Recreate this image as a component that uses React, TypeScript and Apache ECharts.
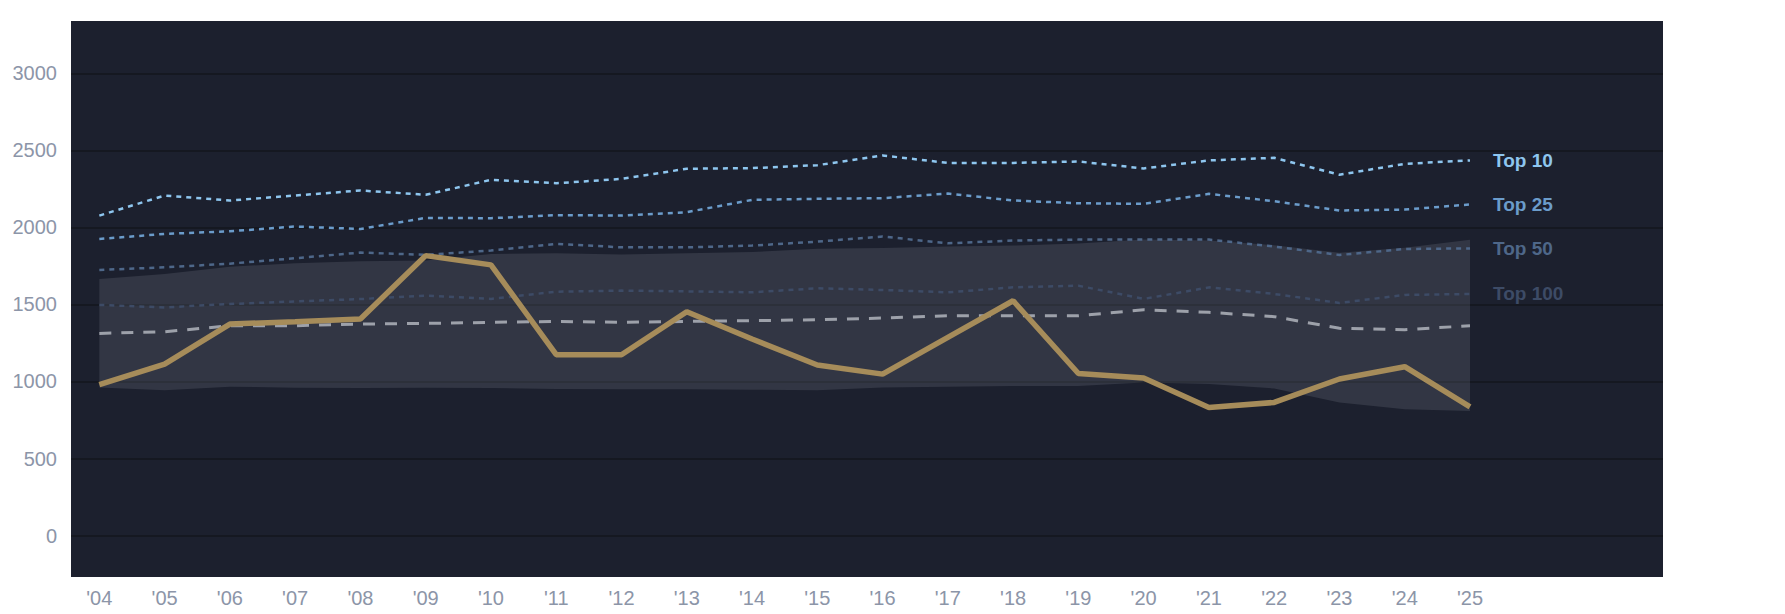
import React, { useEffect, useRef } from "react";
import * as echarts from "echarts";

const years = [2004, 2005, 2006, 2007, 2008, 2009, 2010, 2011, 2012, 2013, 2014, 2015, 2016, 2017, 2018, 2019, 2020, 2021, 2022, 2023, 2024, 2025];
const top10 = [2077, 2207, 2175, 2207, 2240, 2212, 2309, 2287, 2315, 2381, 2385, 2404, 2467, 2419, 2419, 2428, 2383, 2435, 2452, 2342, 2413, 2435];
const top25 = [1925, 1958, 1975, 2006, 1990, 2062, 2060, 2080, 2077, 2099, 2179, 2186, 2190, 2220, 2175, 2157, 2153, 2218, 2170, 2110, 2116, 2149];
const top50 = [1724, 1741, 1765, 1800, 1837, 1822, 1850, 1893, 1871, 1871, 1882, 1908, 1941, 1897, 1915, 1921, 1921, 1921, 1876, 1821, 1860, 1864];
const top100 = [1497, 1481, 1503, 1520, 1535, 1557, 1536, 1583, 1590, 1585, 1579, 1605, 1594, 1579, 1611, 1622, 1536, 1611, 1568, 1510, 1562, 1568];
const median = [1312, 1323, 1362, 1362, 1373, 1377, 1384, 1390, 1384, 1390, 1395, 1401, 1412, 1427, 1427, 1427, 1466, 1449, 1421, 1345, 1336, 1362];
const highlight = [979, 1113, 1373, 1388, 1406, 1817, 1757, 1174, 1174, 1453, 1276, 1107, 1048, 1286, 1524, 1052, 1022, 831, 864, 1016, 1096, 835];
const bandHigh = [1665, 1698, 1745, 1767, 1780, 1785, 1828, 1832, 1825, 1832, 1840, 1861, 1867, 1876, 1882, 1895, 1922, 1915, 1885, 1835, 1868, 1920];
const bandLow = [961, 944, 966, 960, 957, 960, 957, 952, 950, 950, 946, 944, 961, 966, 970, 970, 994, 983, 955, 864, 820, 809];
const yTickValues = [0, 500, 1000, 1500, 2000, 2500, 3000];

const FONT = "'Liberation Sans', Arial, Helvetica, sans-serif";

const pairs = (vals: number[]) => years.map((y, i) => [y, vals[i]]);

const topLine = (name: string, vals: number[], color: string) => ({
  name,
  type: "line",
  data: pairs(vals),
  showSymbol: false,
  symbol: "none",
  z: 3,
  lineStyle: { color, width: 2.5, type: [5, 5] },
  endLabel: {
    show: true,
    formatter: name,
    color,
    fontSize: 19,
    fontWeight: "bold",
    fontFamily: FONT,
    distance: 23,
  },
});

export default function App() {
  const ref = useRef<HTMLDivElement>(null);
  useEffect(() => {
    if (!ref.current) return;
    const chart = echarts.init(ref.current, undefined, { renderer: "svg" });
    const option: any = {
      animation: false,
      backgroundColor: "#ffffff",
      grid: {
        left: 71,
        top: 21,
        right: 122,
        bottom: 37,
        show: true,
        backgroundColor: "#1c202e",
        borderWidth: 0,
        containLabel: false,
      },
      xAxis: {
        type: "value",
        min: 2003.566,
        max: 2027.957,
        splitLine: { show: false },
        axisLine: { show: false },
        axisTick: { show: false },
        axisLabel: {
          customValues: years,
          formatter: (v: number) => "'" + String(v).slice(2),
          color: "#8c95a8",
          fontSize: 20,
          fontFamily: FONT,
          margin: 11,
        },
      },
      yAxis: {
        type: "value",
        min: -269,
        max: 3340,
        splitNumber: 7,
        axisLine: { show: false },
        axisTick: { show: false },
        splitLine: {
          show: true,
          showMinLine: false,
          showMaxLine: false,
          lineStyle: { color: "#151821", width: 2 },
        },
        axisLabel: {
          customValues: yTickValues,
          formatter: (v: number) => String(v),
          color: "#8c95a8",
          fontSize: 20,
          fontFamily: FONT,
          margin: 14,
        },
      },
      series: [
        {
          type: "custom",
          name: "band",
          z: 1,
          silent: true,
          data: [[years[0], bandLow[0]]],
          renderItem: (_params: any, api: any) => {
            const upper = years.map((y, i) => api.coord([y, bandHigh[i]]));
            const lower = years.map((y, i) => api.coord([y, bandLow[i]])).reverse();
            return {
              type: "polygon",
              shape: { points: upper.concat(lower) },
              style: { fill: "rgba(120,124,140,0.24)" },
            };
          },
        },
        topLine("Top 100", top100, "#3d4b66"),
        topLine("Top 50", top50, "#4e6789"),
        topLine("Top 25", top25, "#6b9ccb"),
        topLine("Top 10", top10, "#8ec6ef"),
        {
          name: "Median",
          type: "line",
          data: pairs(median),
          showSymbol: false,
          symbol: "none",
          z: 4,
          lineStyle: { color: "#9da1aa", width: 3, type: [12, 10] },
        },
        {
          name: "Highlight",
          type: "line",
          data: pairs(highlight),
          showSymbol: false,
          symbol: "none",
          z: 5,
          lineStyle: { color: "#a68c5a", width: 5.5 },
        },
      ],
    };
    chart.setOption(option);
    return () => chart.dispose();
  }, []);
  return (
    <div
      ref={ref}
      style={{ position: "fixed", left: 0, top: 0, width: 1785, height: 614 }}
    />
  );
}
